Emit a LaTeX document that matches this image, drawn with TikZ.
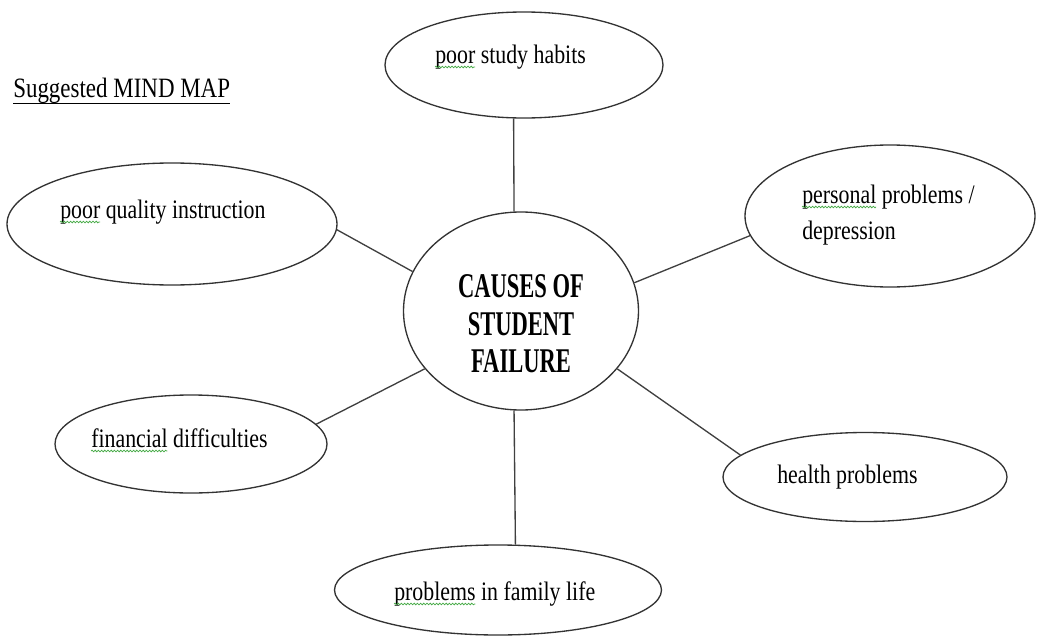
\documentclass[tikz,border=0pt]{standalone}
\usepackage{xcolor}
\usepackage{fontspec}
\usepackage{tikz}
\usetikzlibrary{shapes.geometric,decorations.pathmorphing}

\setmainfont{Liberation Serif}[FakeStretch=0.82]
\newfontfamily\hubfont{Liberation Serif}[FakeStretch=0.65]

\definecolor{spellgreen}{RGB}{70,170,70}
\newcommand{\labelsize}{\fontsize{20}{27}\selectfont}
\newlength\poorwd
\newlength\personalwd
\newlength\financialwd
\newlength\problemswd

\begin{document}
\settowidth\poorwd{\labelsize poor}%
\settowidth\personalwd{\labelsize personal}%
\settowidth\financialwd{\labelsize financial}%
\settowidth\problemswd{\labelsize problems}%
\begin{tikzpicture}[x=0.75pt,y=0.75pt,yscale=-1,xscale=1,
	bubble/.style={draw=black!80, line width=1pt, ellipse, inner sep=0pt},
	label/.style={anchor=base west, inner sep=0pt, font=\labelsize},
	link/.style={draw=black!75, line width=1pt},
	spell/.style={draw=spellgreen, line width=0.55pt, decorate,
		decoration={snake, amplitude=0.6pt, segment length=2.4pt}}]
	\useasboundingbox (0,0) rectangle (1040,639);
	
	%Ellipse [hub]
	\node [bubble, minimum width=176.25pt, minimum height=148.5pt] (hub) at (521,311) {};
	%Ellipse [habits]
	\node [bubble, minimum width=208.5pt, minimum height=79.5pt] (habits) at (524,65) {};
	%Ellipse [instruction]
	\node [bubble, minimum width=247.5pt, minimum height=91.5pt] (instruction) at (172,224) {};
	%Ellipse [depression]
	\node [bubble, minimum width=217.5pt, minimum height=106.5pt] (depression) at (890,216) {};
	%Ellipse [money]
	\node [bubble, minimum width=204pt, minimum height=73.5pt] (money) at (191,444) {};
	%Ellipse [health]
	\node [bubble, minimum width=213pt, minimum height=66.75pt] (health) at (865,477) {};
	%Ellipse [family]
	\node [bubble, minimum width=245.25pt, minimum height=67.5pt] (family) at (498,590) {};
	
	%Straight Lines
	\draw [link] (hub.94) -- (habits.259);
	\draw [link] (hub.160.6) -- (instruction.358.6);
	\draw [link] (hub.14) -- (depression.188.2);
	\draw [link] (hub.211.5) -- (money.9.9);
	\draw [link] (hub.329.8) -- (health.170);
	\draw [link] (hub.266) -- (family.69.6);
	
	% Text Node
	\node [label, font=\fontsize{21}{25}\selectfont] (title) at (13,97) {Suggested MIND MAP};
	\draw [line width=0.9pt] (title.south west) -- (title.south east);
	% Text Node
	\node [anchor=center, inner sep=0pt, align=center, font=\hubfont\bfseries\fontsize{26}{28}\selectfont] (hubText) at (521,324) {CAUSES OF\\STUDENT\\FAILURE};
	% Text Node
	\node [label] (habitsText) at (435,63) {poor study habits};
	% Text Node
	\node [label] (instructionText) at (60,218) {poor quality instruction};
	% Text Node
	\node [label, anchor=north west, align=left] (depressionText) at (802,185) {personal problems /\\depression};
	% Text Node
	\node [label] (moneyText) at (91,447) {financial difficulties};
	% Text Node
	\node [label] (healthText) at (777,483) {health problems};
	% Text Node
	\node [label] (familyText) at (394,600) {problems in family life};
	
	%Spelling marks
	\draw [spell] (habitsText.base west) ++(0,4) -- ++(\poorwd,0);
	\draw [spell] (instructionText.base west) ++(0,4) -- ++(\poorwd,0);
	\draw [spell] (depressionText.north west) ++(0,22) -- ++(\personalwd,0);
	\draw [spell] (moneyText.base west) ++(0,4) -- ++(\financialwd,0);
	\draw [spell] (familyText.base west) ++(0,4) -- ++(\problemswd,0);
	
\end{tikzpicture}
\end{document}
